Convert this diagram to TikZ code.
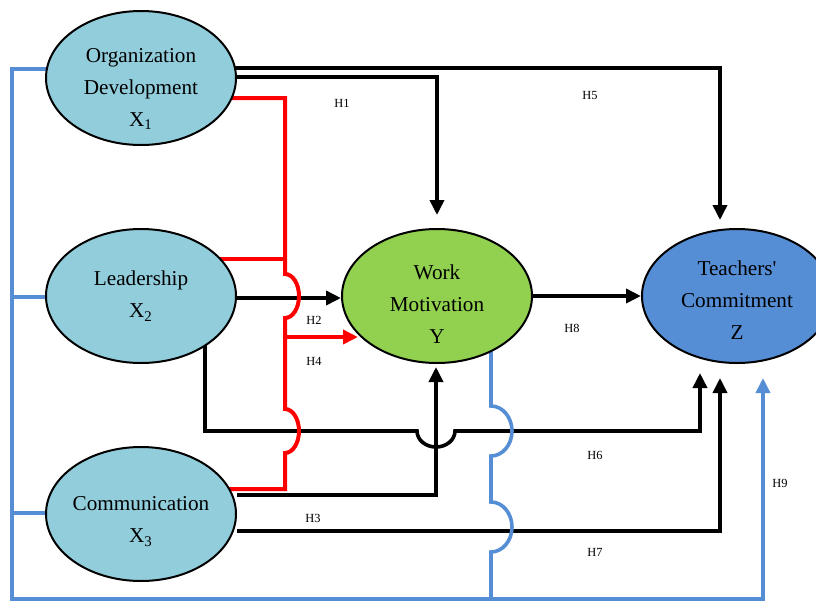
\documentclass[tikz,border=0pt]{standalone}
\usepackage{fontspec}
\setmainfont{Liberation Serif}[Ligatures=TeXOff]
\usetikzlibrary{positioning, arrows.meta, shapes.geometric}
\definecolor{varblue}{RGB}{146,205,220}
\definecolor{motgreen}{RGB}{146,208,80}
\definecolor{comblue}{RGB}{85,142,213}
\pgfdeclarelayer{background}
\pgfsetlayers{background,main}

\begin{document}
\begin{tikzpicture}[x=0.5pt, y=-0.5pt,
        var/.style={ellipse, draw, line width=1pt, fill=varblue, minimum width=95pt, minimum height=67pt, inner sep=0pt},
        vtext/.style={align=center, inner sep=0pt, font=\fontsize{10.6}{16}\selectfont},
        link/.style={line width=1.8pt},
        arr/.style={-{Triangle[length=7.5pt, width=7pt]}},
        hyp/.style={font=\fontsize{6.2}{7}\selectfont}]
                \useasboundingbox (0,0) rectangle (816,601);
                \node[var] (x1) at (141,78) {};
                \node[var, below=41pt of x1] (x2) {};
                \node[var, below=41pt of x2] (x3) {};
                \node[var, fill=motgreen, right=52pt of x2] (y) {};
                \node[var, fill=comblue, right=54pt of y] (z) {};
                \node[vtext] (x1t) at ([yshift=-5.5pt]x1.center) {Organization\\Development\\X\textsubscript{1}};
                \node[vtext] (x2t) at (x2.center) {Leadership\\X\textsubscript{2}};
                \node[vtext] (x3t) at ([yshift=-3.75pt]x3.center) {Communication\\X\textsubscript{3}};
                \node[vtext] (yt1) at ([yshift=-4.25pt]y.center) {Work\\Motivation\\Y};
                \node[vtext] (zt1) at ([yshift=-2pt]z.center) {Teachers'\\Commitment\\Z};
                \coordinate (yt) at (437,215);
                \coordinate (yb) at (436,367);
                \coordinate (yr) at (358,337);
                \coordinate (zt) at (720,220);
                \coordinate (zl) at (700,373);
                \coordinate (zm) at (720,378);
                \coordinate (zr) at (763,378);
                \coordinate (rj) at (285,337);
                \coordinate (bb) at (12,599);
                \begin{pgfonlayer}{background}
                    \draw[link, arr] ([yshift=5pt]x1.center) -| (zt);
                    \draw[link, arr] ([yshift=0.5pt]x1.center) -| (yt);
                    \draw[link, arr] ([yshift=-1pt]x2.center) -- ([yshift=-1pt]y.west);
                    \draw[link, arr] (y) -- (z);
                    \draw[link, arr] ([xshift=32pt]x2.center) |- (417,431)
                        arc[start angle=180, end angle=360, x radius=9.5pt, y radius=8pt] -| (zl);
                    \draw[link, arr] ([yshift=9.5pt]x3.east) -| (yb);
                    \draw[link, arr] ([yshift=-8.5pt]x3.east) -| (zm);
                    \draw[link, red, line width=2pt] ([yshift=-10pt]x1.center) -| (285,274)
                        arc[start angle=90, end angle=-90, x radius=7pt, y radius=11pt] -- (285,409)
                        arc[start angle=90, end angle=-90, x radius=7pt, y radius=11pt] |- ([yshift=12.5pt]x3.center);
                    \draw[link, red, line width=2pt] ([yshift=18.5pt]x2.center) -- ++(145,0);
                    \draw[link, red, arr] (rj) -- (yr);
                    \draw[link, comblue, arr] ([yshift=4.5pt]x1.center) -| (bb) -| (zr);
                    \draw[link, comblue] ([yshift=-0.5pt]x2.center) -| (bb);
                    \draw[link, comblue] ([yshift=0.5pt]x3.center) -| (bb);
                    \draw[link, comblue] ([xshift=27pt]y.center) -- ([xshift=27pt]y.center |- 0,406)
                        arc[start angle=90, end angle=-90, x radius=10.5pt, y radius=12.5pt] -- ++(0,46)
                        arc[start angle=90, end angle=-90, x radius=10.5pt, y radius=12.5pt] |- (bb);
                \end{pgfonlayer}
                \node[hyp] (h1) at (342,103) {H1};
                \node[hyp] (h5) at (590,95) {H5};
                \node[hyp] (h2) at (314,320) {H2};
                \node[hyp] (h4) at (314,361) {H4};
                \node[hyp] (h3) at (313,518) {H3};
                \node[hyp] (h8) at (572,328) {H8};
                \node[hyp] (h6) at (595,455) {H6};
                \node[hyp] (h7) at (595,552) {H7};
                \node[hyp] (h9) at (780,483) {H9};
\end{tikzpicture}
\end{document}
